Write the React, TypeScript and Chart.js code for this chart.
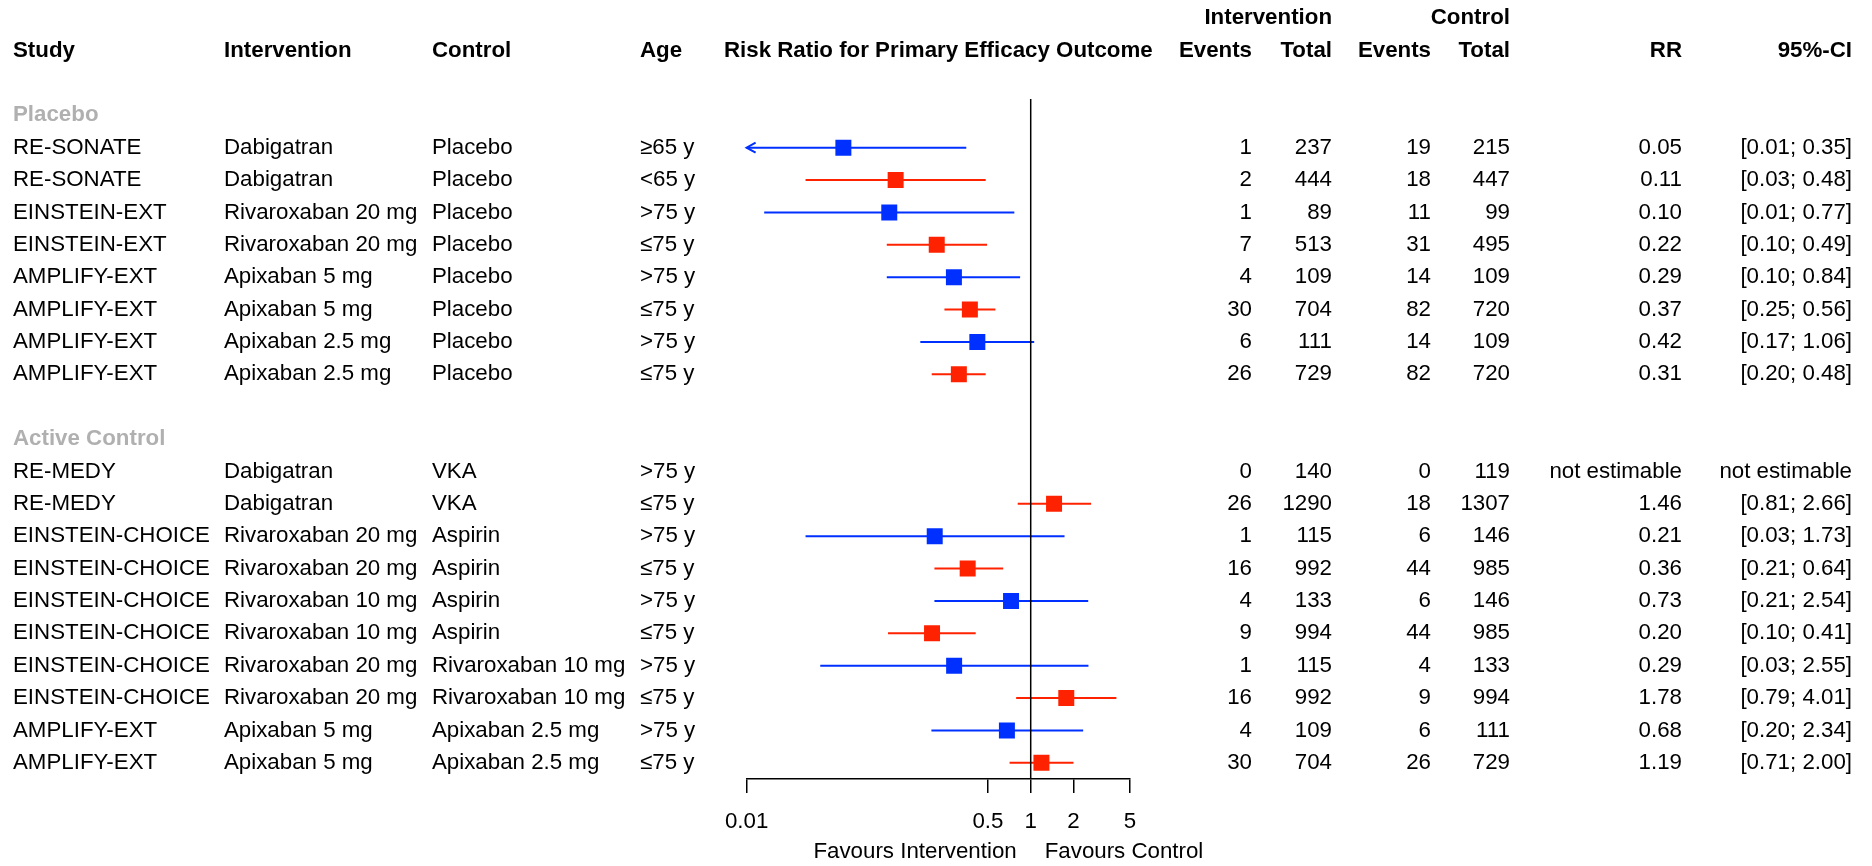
import React, { useEffect, useRef } from "react";
import { Chart, registerables } from "chart.js";

Chart.register(...registerables);

// ---------------- data ----------------
const groups = ["Placebo", "Active Control"];
const groupOf = [0, 0, 0, 0, 0, 0, 0, 0, 1, 1, 1, 1, 1, 1, 1, 1, 1, 1];
const studies = [
  "RE-SONATE", "RE-SONATE", "EINSTEIN-EXT", "EINSTEIN-EXT",
  "AMPLIFY-EXT", "AMPLIFY-EXT", "AMPLIFY-EXT", "AMPLIFY-EXT",
  "RE-MEDY", "RE-MEDY", "EINSTEIN-CHOICE", "EINSTEIN-CHOICE",
  "EINSTEIN-CHOICE", "EINSTEIN-CHOICE", "EINSTEIN-CHOICE", "EINSTEIN-CHOICE",
  "AMPLIFY-EXT", "AMPLIFY-EXT",
];
const interventions = [
  "Dabigatran", "Dabigatran", "Rivaroxaban 20 mg", "Rivaroxaban 20 mg",
  "Apixaban 5 mg", "Apixaban 5 mg", "Apixaban 2.5 mg", "Apixaban 2.5 mg",
  "Dabigatran", "Dabigatran", "Rivaroxaban 20 mg", "Rivaroxaban 20 mg",
  "Rivaroxaban 10 mg", "Rivaroxaban 10 mg", "Rivaroxaban 20 mg", "Rivaroxaban 20 mg",
  "Apixaban 5 mg", "Apixaban 5 mg",
];
const controls = [
  "Placebo", "Placebo", "Placebo", "Placebo", "Placebo", "Placebo", "Placebo", "Placebo",
  "VKA", "VKA", "Aspirin", "Aspirin", "Aspirin", "Aspirin",
  "Rivaroxaban 10 mg", "Rivaroxaban 10 mg", "Apixaban 2.5 mg", "Apixaban 2.5 mg",
];
const ages = [
  "≥65 y", "<65 y", ">75 y", "≤75 y", ">75 y", "≤75 y", ">75 y", "≤75 y",
  ">75 y", "≤75 y", ">75 y", "≤75 y", ">75 y", "≤75 y", ">75 y", "≤75 y", ">75 y", "≤75 y",
];
const intEvents = [1, 2, 1, 7, 4, 30, 6, 26, 0, 26, 1, 16, 4, 9, 1, 16, 4, 30];
const intTotal = [237, 444, 89, 513, 109, 704, 111, 729, 140, 1290, 115, 992, 133, 994, 115, 992, 109, 704];
const ctrlEvents = [19, 18, 11, 31, 14, 82, 14, 82, 0, 18, 6, 44, 6, 44, 4, 9, 6, 26];
const ctrlTotal = [215, 447, 99, 495, 109, 720, 109, 720, 119, 1307, 146, 985, 146, 985, 133, 994, 111, 729];
const rr = [0.048, 0.112, 0.101, 0.218, 0.288, 0.373, 0.421, 0.312, null, 1.46, 0.211, 0.36, 0.727, 0.202, 0.289, 1.78, 0.68, 1.19];
const ciLow = [0.006, 0.026, 0.0133, 0.097, 0.097, 0.247, 0.167, 0.201, null, 0.81, 0.026, 0.21, 0.21, 0.099, 0.033, 0.79, 0.2, 0.71];
const ciHigh = [0.352, 0.482, 0.767, 0.493, 0.842, 0.564, 1.058, 0.482, null, 2.66, 1.73, 0.64, 2.54, 0.41, 2.55, 4.01, 2.34, 2.0];
const xTicks = [0.01, 0.5, 1, 2, 5];
const xMin = 0.01;
const xMax = 5;

// ---------------- layout helpers ----------------
const BLUE = "#0030ff";
const RED = "#ff2200";
const GREY = "#b0b0b0";
const FONT = '"Liberation Sans", Arial, Helvetica, sans-serif';
const FS = 22.3;

const isOlder = (a: string) => a.startsWith(">") || a.startsWith("≥");

// row positions (in row units)
const headerPos: number[] = [];
const rowPos: number[] = [];
(() => {
  let r = 0;
  groups.forEach((_, gi) => {
    if (gi > 0) r++;
    headerPos.push(r);
    r++;
    groupOf.forEach((g, i) => {
      if (g === gi) rowPos[i] = r++;
    });
  });
})();
const lastRow = Math.max(...rowPos);

const fmt = (v: number | null) => (v == null ? "not estimable" : v.toFixed(2));

const tablePlugin = {
  id: "forestTable",
  afterDatasetsDraw(chart: any) {
    const { ctx, scales } = chart;
    const x = scales.x;
    const y = scales.y;
    ctx.save();
    // arrows for CIs beyond the axis range
    rowPos.forEach((r, i) => {
      const lo = ciLow[i];
      if (lo == null) return;
      const col = isOlder(ages[i]) ? BLUE : RED;
      const py = y.getPixelForValue(r);
      if (lo < xMin) {
        const px = x.getPixelForValue(xMin);
        ctx.strokeStyle = col;
        ctx.lineWidth = 2;
        ctx.beginPath();
        ctx.moveTo(px + 9, py - 5);
        ctx.lineTo(px, py);
        ctx.lineTo(px + 9, py + 5);
        ctx.stroke();
      }
    });
    ctx.restore();
  },
  afterDraw(chart: any) {
    const { ctx, scales, chartArea } = chart;
    const x = scales.x;
    const y = scales.y;
    ctx.save();
    ctx.textBaseline = "middle";
    const txt = (s: string, px: number, py: number, align: CanvasTextAlign, bold = false, color = "#000") => {
      ctx.font = `${bold ? "bold " : ""}${FS}px ${FONT}`;
      ctx.fillStyle = color;
      ctx.textAlign = align;
      ctx.fillText(s, px, py);
    };
    const colStudy = 13;
    const colInt = 224;
    const colCtrl = 432;
    const colAge = 640;
    const colIE = 1252;
    const colIT = 1332;
    const colCE = 1431;
    const colCT = 1510;
    const colRR = 1682;
    const colCI = 1852;

    const h1 = y.getPixelForValue(-3);
    const h2 = y.getPixelForValue(-2);
    txt("Intervention", colIT, h1, "right", true);
    txt("Control", colCT, h1, "right", true);
    txt("Study", colStudy, h2, "left", true);
    txt("Intervention", colInt, h2, "left", true);
    txt("Control", colCtrl, h2, "left", true);
    txt("Age", colAge, h2, "left", true);
    txt("Risk Ratio for Primary Efficacy Outcome", (chartArea.left + chartArea.right) / 2, h2, "center", true);
    txt("Events", colIE, h2, "right", true);
    txt("Total", colIT, h2, "right", true);
    txt("Events", colCE, h2, "right", true);
    txt("Total", colCT, h2, "right", true);
    txt("RR", colRR, h2, "right", true);
    txt("95%-CI", colCI, h2, "right", true);

    groups.forEach((g, gi) => {
      txt(g, colStudy, y.getPixelForValue(headerPos[gi]), "left", true, GREY);
    });

    rowPos.forEach((r, i) => {
      const py = y.getPixelForValue(r);
      txt(studies[i], colStudy, py, "left");
      txt(interventions[i], colInt, py, "left");
      txt(controls[i], colCtrl, py, "left");
      txt(ages[i], colAge, py, "left");
      txt(String(intEvents[i]), colIE, py, "right");
      txt(String(intTotal[i]), colIT, py, "right");
      txt(String(ctrlEvents[i]), colCE, py, "right");
      txt(String(ctrlTotal[i]), colCT, py, "right");
      txt(fmt(rr[i]), colRR, py, "right");
      const ci = ciLow[i] == null ? "not estimable" : `[${fmt(ciLow[i])}; ${fmt(ciHigh[i])}]`;
      txt(ci, colCI, py, "right");
    });

    const one = x.getPixelForValue(1);
    const fy = 852;
    txt("Favours Intervention", one - 14, fy, "right");
    txt("Favours Control", one + 14, fy, "left");
    ctx.restore();
  },
};

export default function App() {
  const ref = useRef<HTMLCanvasElement | null>(null);
  useEffect(() => {
    document.body.style.margin = "0";
    document.body.style.overflow = "hidden";
    const canvas = ref.current;
    if (!canvas) return;

    const datasets: any[] = [];
    // squares
    [true, false].forEach((older) => {
      datasets.push({
        label: older ? "older" : "younger",
        data: rowPos
          .map((r, i) => ({ x: rr[i], y: r, i }))
          .filter((d) => d.x != null && isOlder(ages[d.i]) === older)
          .map((d) => ({ x: d.x, y: d.y })),
        pointStyle: "rect",
        pointRadius: 11.3,
        pointHoverRadius: 11.3,
        pointBorderWidth: 0,
        backgroundColor: older ? BLUE : RED,
        borderColor: older ? BLUE : RED,
        showLine: false,
        order: 0,
      });
    });
    // reference line at 1
    datasets.push({
      label: "ref",
      data: [
        { x: 1, y: -0.5 },
        { x: 1, y: lastRow + 0.5 },
      ],
      showLine: true,
      borderColor: "#000",
      borderWidth: 1.5,
      pointRadius: 0,
      order: 1,
    });
    // CI lines
    rowPos.forEach((r, i) => {
      if (ciLow[i] == null || ciHigh[i] == null) return;
      const col = isOlder(ages[i]) ? BLUE : RED;
      datasets.push({
        label: "ci" + i,
        data: [
          { x: ciLow[i], y: r },
          { x: ciHigh[i], y: r },
        ],
        showLine: true,
        borderColor: col,
        borderWidth: 2,
        pointRadius: 0,
        order: 2,
      });
    });

    const chart = new Chart(canvas, {
      type: "scatter",
      data: { datasets },
      options: {
        animation: false,
        responsive: false,
        devicePixelRatio: 1,
        events: [],
        layout: { padding: { left: 746.6, right: 742, top: 99.1, bottom: 27 } },
        plugins: { legend: { display: false }, tooltip: { enabled: false }, title: { display: false } },
        scales: {
          x: {
            type: "logarithmic",
            min: xMin,
            max: xMax,
            position: "bottom",
            afterBuildTicks: (scale: any) => {
              scale.ticks = xTicks.map((v) => ({ value: v }));
            },
            afterFit: (scale: any) => {
              scale.height = 60;
            },
            ticks: {
              autoSkip: false,
              maxRotation: 0,
              padding: 15.5,
              color: "#000",
              font: { family: FONT, size: FS },
              callback: (v: any) => String(v),
            },
            grid: {
              display: true,
              drawOnChartArea: false,
              drawTicks: true,
              tickLength: 14,
              color: "#000",
              lineWidth: 1.5,
            },
            border: { display: true, color: "#000", width: 1.5 },
          },
          y: {
            type: "linear",
            display: false,
            reverse: true,
            min: -0.5,
            max: lastRow + 0.5,
          },
        },
      },
      plugins: [tablePlugin],
    });
    return () => chart.destroy();
  }, []);

  return (
    <canvas
      ref={ref}
      width={1872}
      height={866}
      style={{ display: "block", width: 1872, height: 866, position: "fixed", left: 0, top: 0 }}
    />
  );
}
